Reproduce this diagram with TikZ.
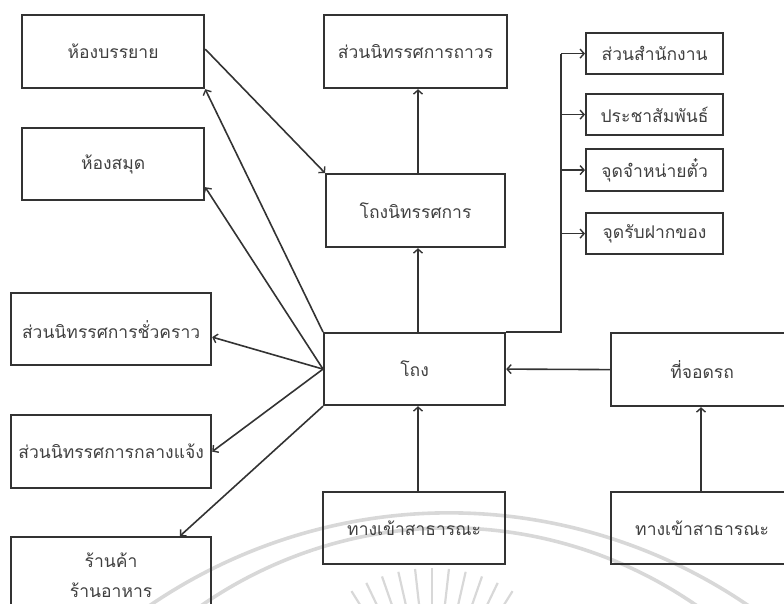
\documentclass[tikz,border=0pt]{standalone}
\usepackage{fontspec}
\newfontfamily\thai[Script=Thai]{Loma}
\usetikzlibrary{arrows.meta,calc}
\definecolor{ink}{HTML}{333333}
\definecolor{txt}{HTML}{404040}
\definecolor{mark}{HTML}{D8D8D8}
\tikzset{
  box/.style={draw=ink, line width=2.2pt, anchor=north west, inner sep=0pt,
    text=txt, font=\thai\fontsize{17.5}{30}\selectfont, align=center},
  link/.style={draw=ink, line width=1.6pt},
  arr/.style={link, -{Straight Barb[length=4pt,width=9pt,line width=1.4pt]}},
  wm/.style={draw=mark, line width=3.6pt},
  ray/.style={draw=mark, line width=2.2pt}
}
\begin{document}
\begin{tikzpicture}[x=1pt,y=-1pt]
\useasboundingbox (0,0) rectangle (784,604);
\clip (0,0) rectangle (784,604);

% faint seal behind the chart
\begin{scope}
  \draw[wm] (449,1043) ++(-160:530) arc[start angle=-160, end angle=-20, radius=530];
  \draw[wm] (449,962) ++(-160:434) arc[start angle=-160, end angle=-20, radius=434];
  \foreach \a in {58,64.4,...,122}
    \draw[ray] (432,720) ++(\a:-116) -- ++(\a:-36);
\end{scope}

% left column
\node[box, minimum width=182, minimum height=73] (lecture) at (21,14) {ห้องบรรยาย};
\node[box, minimum width=182, minimum height=72] (library) at (21,127) {ห้องสมุด};
\node[box, minimum width=200, minimum height=72] (temp) at (10,292) {ส่วนนิทรรศการชั่วคราว};
\node[box, minimum width=200, minimum height=73] (outdoor) at (10,414) {ส่วนนิทรรศการกลางแจ้ง};
\node[box, minimum width=200, minimum height=76] (shop) at (10,536) {ร้านค้า\\ร้านอาหาร};

% centre column
\node[box, minimum width=183, minimum height=73] (permanent) at (323,14) {ส่วนนิทรรศการถาวร};
\node[box, minimum width=179, minimum height=73] (gallery) at (325,173) {โถงนิทรรศการ};
\node[box, minimum width=181, minimum height=72] (hall) at (323,332) {โถง};
\node[box, minimum width=182, minimum height=72] (entry) at (322,491) {ทางเข้าสาธารณะ};

% right column
\node[box, minimum width=137, minimum height=41] (office) at (585,32) {ส่วนสำนักงาน};
\node[box, minimum width=137, minimum height=41] (pr) at (585,93) {ประชาสัมพันธ์};
\node[box, minimum width=137, minimum height=42] (ticket) at (585,148) {จุดจำหน่ายตั๋ว};
\node[box, minimum width=137, minimum height=41] (cloak) at (585,212) {จุดรับฝากของ};
\node[box, minimum width=182, minimum height=73] (parking) at (610,332) {ที่จอดรถ};
\node[box, minimum width=182, minimum height=72] (entry2) at (610,491) {ทางเข้าสาธารณะ};

\coordinate (axis) at (418,0);
\coordinate (bus) at (561,0);
\coordinate (carline) at (701,0);

% lecture room leads into the gallery hall
\draw[arr] ([yshift=2.5pt]lecture.east) -- (gallery.north west);

% hall fans out to the left-hand spaces
\draw[arr] (hall.north west) -- (lecture.south east);
\draw[arr] (hall.west) -- ([yshift=14pt]library.south east);
\draw[arr] (hall.west) -- ([yshift=-8pt]temp.east);
\draw[arr] (hall.west) -- (outdoor.east);
\draw[arr] (hall.south west) -- ($(shop.north west)+(170,0)$);

% central spine
\draw[arr] (hall.north -| axis) -- (gallery.south -| axis);
\draw[arr] (gallery.north -| axis) -- (permanent.south -| axis);
\draw[arr] (entry.north -| axis) -- (hall.south -| axis);

% service branch
\draw[link] (hall.north east) -| (office.west -| bus);
\foreach \n in {office,pr,ticket,cloak}
  \draw[arr] (\n.west -| bus) -- (\n.west);

% parking side
\draw[arr] (parking.west) -- (hall.east);
\draw[arr] (entry2.north -| carline) -- (parking.south -| carline);
\end{tikzpicture}
\end{document}
